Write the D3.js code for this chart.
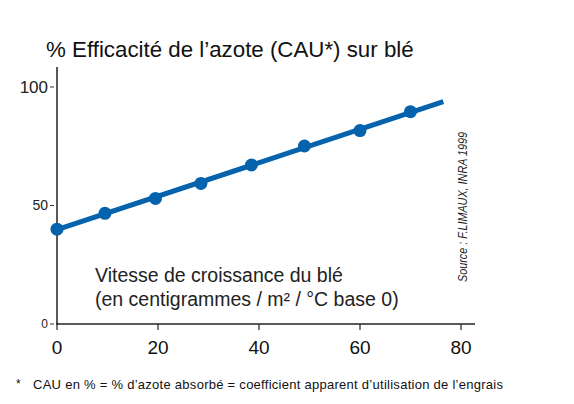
<!DOCTYPE html>
<head>
<script src="https://d3js.org/d3.v7.min.js"></script>
<meta charset="utf-8">
<style>
body { margin: 0; background: #fff; }
text { font-family: "Liberation Sans", Arial, sans-serif; }
</style>
</head>
<body>
<svg id="chart"></svg>
<script>

// chart data
var pointX = [0, 9.5, 19.5, 28.5, 38.5, 49, 60, 70];
var pointY = [40, 46.7, 53, 59.3, 67.1, 75.1, 81.6, 89.6];
var lineX = [0, 76.5];
var lineY = [39.8, 93.8];
var xTicks = [0, 20, 40, 60, 80];
var yTicks = [0, 50, 100];
var yTickSizes = [12, 14, 17];

var width = 574, height = 404;
var blue = "#0563ae";

var svg = d3.select("#chart")
    .attr("width", width)
    .attr("height", height);

var x = d3.scaleLinear().domain([0, 80]).range([57, 461]);
var y = d3.scaleLinear().domain([0, 100]).range([324, 87]);

// title
svg.append("text")
    .attr("x", 46).attr("y", 57)
    .attr("font-size", 22.3)
    .attr("fill", "#111")
    .text("% Efficacité de l’azote (CAU*) sur blé");

// axes
svg.append("line")
    .attr("x1", x(0)).attr("x2", x(0))
    .attr("y1", 67).attr("y2", y(0))
    .attr("stroke", "#222").attr("stroke-width", 1.5);
svg.append("line")
    .attr("x1", x(0) - 1).attr("x2", 475)
    .attr("y1", y(0)).attr("y2", y(0))
    .attr("stroke", "#222").attr("stroke-width", 1.5);

var xAxis = svg.append("g");
xAxis.selectAll("line")
    .data(xTicks)
    .join("line")
    .attr("x1", d => x(d)).attr("x2", d => x(d))
    .attr("y1", y(0)).attr("y2", y(0) + 6)
    .attr("stroke", "#222").attr("stroke-width", 1.2);
xAxis.selectAll("text")
    .data(xTicks)
    .join("text")
    .attr("x", d => x(d)).attr("y", 354)
    .attr("text-anchor", "middle")
    .attr("font-size", 19)
    .attr("fill", "#111")
    .text(d => d);

var yAxis = svg.append("g");
yAxis.selectAll("line")
    .data(yTicks)
    .join("line")
    .attr("x1", x(0) - 7).attr("x2", x(0) - 3)
    .attr("y1", d => y(d)).attr("y2", d => y(d))
    .attr("stroke", "#333").attr("stroke-width", 1);
yAxis.selectAll("text")
    .data(yTicks)
    .join("text")
    .attr("x", x(0) - 9).attr("y", d => y(d))
    .attr("dy", "0.35em")
    .attr("text-anchor", "end")
    .attr("font-size", (d, i) => yTickSizes[i])
    .attr("fill", "#222")
    .text(d => d);

// fitted line
var line = d3.line().x(d => x(d[0])).y(d => y(d[1]));
svg.append("path")
    .datum(d3.zip(lineX, lineY))
    .attr("d", line)
    .attr("fill", "none")
    .attr("stroke", blue)
    .attr("stroke-width", 5);

svg.selectAll("circle")
    .data(d3.zip(pointX, pointY))
    .join("circle")
    .attr("cx", d => x(d[0]))
    .attr("cy", d => y(d[1]))
    .attr("r", 6.5)
    .attr("fill", blue);

// x axis caption inside the plot
svg.append("text")
    .attr("x", 95).attr("y", 282)
    .attr("font-size", 19.5)
    .attr("fill", "#222")
    .text("Vitesse de croissance du blé");
svg.append("text")
    .attr("x", 95).attr("y", 306)
    .attr("font-size", 19.5)
    .attr("fill", "#222")
    .text("(en centigrammes / m² / °C base 0)");

// source
svg.append("text")
    .attr("transform", "translate(467,282) rotate(-90)")
    .attr("font-size", 13)
    .attr("font-style", "italic")
    .attr("fill", "#222")
    .attr("textLength", 150)
    .attr("lengthAdjust", "spacingAndGlyphs")
    .text("Source : F.LIMAUX, INRA 1999");

// footnote
svg.append("text")
    .attr("x", 16).attr("y", 388)
    .attr("font-size", 12)
    .attr("fill", "#111")
    .text("*");
svg.append("text")
    .attr("x", 33).attr("y", 389)
    .attr("font-size", 13)
    .attr("fill", "#111")
    .attr("textLength", 470)
    .attr("lengthAdjust", "spacing")
    .text("CAU en % = % d’azote absorbé = coefficient apparent d’utilisation de l’engrais");

</script>
</body>
